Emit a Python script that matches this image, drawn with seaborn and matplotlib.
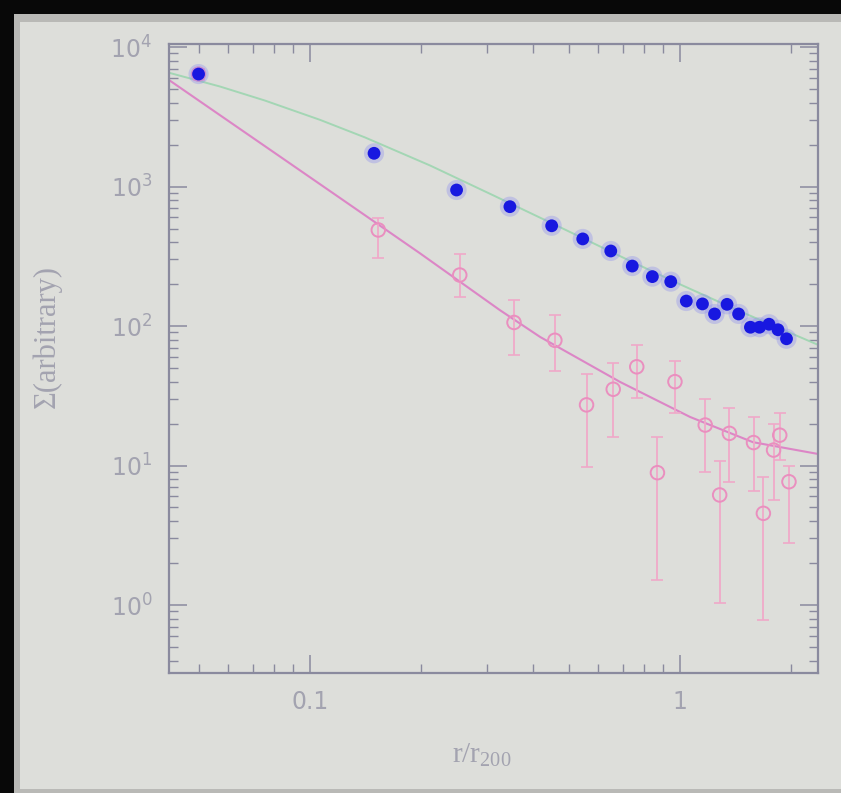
import numpy as np
import pandas as pd
import matplotlib
matplotlib.use("Agg")
import matplotlib.pyplot as plt
import seaborn as sns
from matplotlib.ticker import LogLocator, FixedLocator, FixedFormatter, NullFormatter
from matplotlib.patches import Rectangle

# ---- data ----
blue_r = [0.05, 0.149, 0.249, 0.347, 0.450, 0.546, 0.650, 0.743, 0.842, 0.944,
          1.04, 1.15, 1.24, 1.34, 1.44, 1.55, 1.64, 1.74, 1.84, 1.94]
blue_sigma = [6400, 1730, 944, 717, 523, 421, 345, 269, 226, 208,
              151, 144, 122, 143, 122, 98, 98, 103, 94, 81]

pink_r = [0.05, 0.153, 0.254, 0.356, 0.459, 0.559, 0.660, 0.764, 0.869, 0.969,
          1.17, 1.28, 1.36, 1.58, 1.68, 1.79, 1.86, 1.97]
pink_sigma = [6400, 488, 232, 106, 79, 27.2, 35.2, 51, 8.88, 39.9,
              19.5, 6.15, 17.0, 14.6, 4.54, 12.9, 16.5, 7.65]
pink_hi = [7000, 595, 328, 154, 120, 45.3, 54, 73, 16.1, 56,
           29.8, 10.8, 25.7, 22.2, 8.3, 19.7, 23.9, 10.0]
pink_lo = [5800, 306, 162, 62, 47.8, 9.7, 16.1, 30.3, 1.51, 23.7,
           9.0, 1.03, 7.65, 6.6, 0.78, 5.7, 10.9, 2.78]

green_fit_r = [0.0418, 0.0571, 0.0755, 0.1064, 0.1408, 0.211, 0.3124, 0.474,
               0.719, 1.0, 1.453, 2.36]
green_fit_sigma = [6516, 5212, 4136, 3007, 2249, 1416, 866, 511, 300, 199, 127.4, 73.3]

pink_fit_r = [0.0416, 0.0856, 0.1228, 0.198, 0.326, 0.419, 0.689, 1.064, 1.574, 2.36]
pink_fit_sigma = [5800, 1549, 800, 333, 130, 83.4, 39.7, 22.3, 14.7, 12.1]

x_ticks = [0.1, 1]
x_ticklabels = ["0.1", "1"]

# ---- styling ----
SLIDE = "#dddeda"
FRAME = "#8a8a9e"
TXT = "#a3a3b0"
BLUE = "#1818e0"
PINK_PT = "#ea8fbf"
PINK_ERR = "#f0a9c9"
PINK_LINE = "#dc86c6"
GREEN = "#a3d6b4"

sns.set_theme(style="ticks")
plt.rcParams['font.family'] = ['DejaVu Sans']

fig = plt.figure(figsize=(8.41, 7.93), dpi=100, facecolor="#080808")
fig.patches.append(Rectangle((14 / 841, 0), 1, 1 - 14 / 793, transform=fig.transFigure,
                             facecolor="#b9b9b6", edgecolor="none", zorder=-10))
fig.patches.append(Rectangle((20 / 841, 4 / 793), 1, 1 - 26 / 793, transform=fig.transFigure,
                             facecolor=SLIDE, edgecolor="none", zorder=-9))

ax = fig.add_axes([169 / 841, 1 - 673 / 793, 649 / 841, 629 / 793])
ax.set_zorder(1)
ax.set_facecolor(SLIDE)
ax.set_xscale("log")
ax.set_yscale("log")

green_df = pd.DataFrame({"r": green_fit_r, "s": green_fit_sigma})
pinkfit_df = pd.DataFrame({"r": pink_fit_r, "s": pink_fit_sigma})
blue_df = pd.DataFrame({"r": blue_r, "s": blue_sigma})
pink_df = pd.DataFrame({"r": pink_r, "s": pink_sigma, "hi": pink_hi, "lo": pink_lo})

sns.lineplot(data=green_df, x="r", y="s", ax=ax, color=GREEN, lw=1.4, sort=False, zorder=2)
sns.lineplot(data=pinkfit_df, x="r", y="s", ax=ax, color=PINK_LINE, lw=1.5, sort=False, zorder=2)

yerr = np.array([pink_df["s"] - pink_df["lo"], pink_df["hi"] - pink_df["s"]])
ax.errorbar(pink_df["r"], pink_df["s"], yerr=yerr, fmt="none", ecolor=PINK_ERR,
            elinewidth=1.3, capsize=4, capthick=1.2, zorder=3)
sns.scatterplot(data=pink_df, x="r", y="s", ax=ax, marker="o", s=95,
                facecolors="none", edgecolors=PINK_PT, linewidth=1.4, zorder=4)

# soft glow + solid blue points
sns.scatterplot(data=blue_df, x="r", y="s", ax=ax, marker="o", s=210,
                color="#8c8cf0", alpha=0.35, edgecolor="none", zorder=5)
sns.scatterplot(data=blue_df, x="r", y="s", ax=ax, marker="o", s=85,
                color=BLUE, edgecolor="none", zorder=6)

ax.set_xlim(0.0416, 2.36)
ax.set_ylim(0.3255, 10510)

ax.xaxis.set_major_locator(FixedLocator(x_ticks))
ax.xaxis.set_major_formatter(FixedFormatter(x_ticklabels))
ax.xaxis.set_minor_locator(LogLocator(base=10, subs=np.arange(2, 10)))
ax.xaxis.set_minor_formatter(NullFormatter())
ax.yaxis.set_major_locator(LogLocator(base=10, numticks=10))
ax.yaxis.set_minor_locator(LogLocator(base=10, subs=np.arange(2, 10), numticks=20))
ax.yaxis.set_minor_formatter(NullFormatter())

for s in ax.spines.values():
    s.set_color(FRAME)
    s.set_linewidth(1.6)

ax.tick_params(which="both", direction="in", top=True, right=True, color=FRAME,
               labelcolor=TXT, labelsize=17)
ax.tick_params(which="major", length=13, width=1.1, pad=12)
ax.tick_params(which="minor", length=6.5, width=1.0)

ax.set_xlabel(r"r/r$_{\mathregular{200}}$", fontsize=21, color=TXT, family="Liberation Serif")
ax.set_ylabel("Σ(arbitrary)", fontsize=22, color=TXT, family="Liberation Serif")
ax.xaxis.set_label_coords((482 - 169) / 649, (673 - 741) / 629)
ax.yaxis.set_label_coords((62 - 169) / 649, (673 - 337) / 629)

fig.savefig("out.png", dpi=100, facecolor=fig.get_facecolor())
